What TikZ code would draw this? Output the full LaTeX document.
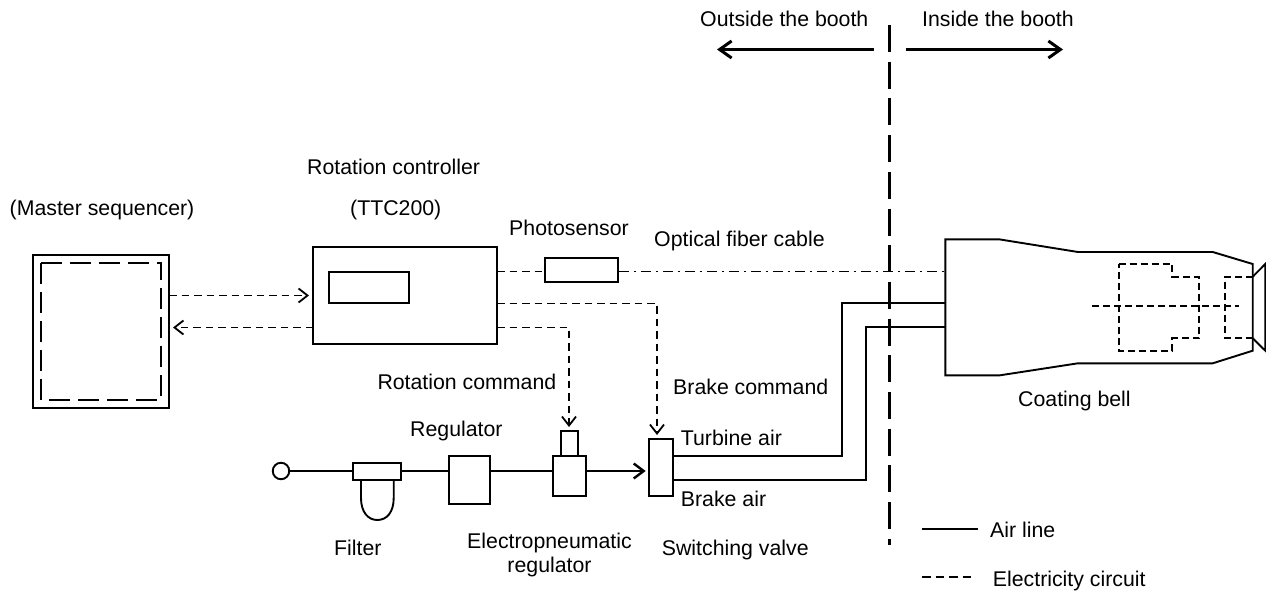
\documentclass[tikz,border=0pt]{standalone}
\usepackage{fontspec}
\setmainfont{Liberation Sans}
\usetikzlibrary{arrows.meta}
\tikzset{
  x=1pt,y=-1pt,
  thin line/.style={line width=1.9pt,black},
  box/.style={thin line,fill=white},
  air/.style={line width=2.4pt,black},
  sig/.style={line width=1.8pt,black,dash pattern=on 7.5pt off 5pt},
  sigarrow/.style={sig,-{Straight Barb[length=9pt,width=14pt,line width=1.8pt]}},
  fiber/.style={line width=1.8pt,black,dash pattern=on 10pt off 5pt on 2pt off 5pt},
  booth/.style={line width=3.2pt,black,dash pattern=on 27pt off 9.7pt},
  heavy/.style={line width=3pt,black,-{Straight Barb[length=12pt,width=17pt,line width=3pt]}},
  lbl/.style={font=\fontsize{21.3pt}{24pt}\selectfont,inner sep=0pt,anchor=base west,black},
}
\begin{document}
\begin{tikzpicture}
\useasboundingbox (0,0) rectangle (1266,591);
% booth divider
\coordinate (bt) at (889.3,25);
\coordinate (bb) at (889.3,545);
\draw[booth] (bt) -- (bb);
\coordinate (la) at (873.5,49.5);
\coordinate (lb) at (717,49.5);
\coordinate (ra) at (906,49.5);
\coordinate (rb) at (1063,49.5);
\draw[heavy] (la) -- (lb);
\draw[heavy] (ra) -- (rb);
\node[lbl] (t1) at (700,26.5) {Outside the booth};
\node[lbl] (t2) at (922,26.5) {Inside the booth};
% master sequencer
\node[lbl] (t3) at (9.5,215) {(Master sequencer)};
\draw[box] (32.7,255) rectangle (169,407.7);
\coordinate (m) at (169,295.5);
\coordinate (mi) at (173,327.5);
\draw[line width=2.2pt,black,dash pattern=on 21pt off 8pt] (41,263) rectangle (161,400);
% controller
\node[lbl] (t4) at (307,175) {Rotation controller};
\node[lbl] (t5) at (350,215) {(TTC200)};
\draw[box] (313,247) rectangle (497,343.7);
\draw[box] (329,272) rectangle (409,303);
\coordinate (ci) at (309,295.5);
\coordinate (co) at (313,327.5);
\draw[sigarrow] (m) -- (ci);
\draw[sigarrow] (co) -- (mi);
% photosensor & fiber
\node[lbl] (t6) at (509,235) {Photosensor};
\node[lbl] (t7) at (654,246) {Optical fiber cable};
\node[box,draw,minimum width=73pt,minimum height=24pt,inner sep=0pt] (ph) at (581.5,270) {};
\coordinate (c1) at (497,271.5);
\coordinate (c2) at (497,303.5);
\coordinate (c3) at (497,327.5);
\coordinate (bell) at (945.3,271.5);
\draw[sig] (c1) -- (ph.west |- c1);
\draw[fiber] (ph.east |- c1) -- (bell);
% valve etc.
\node[lbl] (t8) at (377.3,389) {Rotation command};
\node[lbl] (t9) at (673,394) {Brake command};
\node[lbl] (t10) at (410,436.7) {Regulator};
\node[lbl] (t11) at (680.7,445) {Turbine air};
\node[lbl] (t12) at (680.7,506.7) {Brake air};
\node[lbl] (t13) at (334,555) {Filter};
\node[lbl,anchor=base] (t14) at (549.5,548.3) {Electropneumatic};
\node[lbl,anchor=base] (t15) at (549.5,572.7) {regulator};
\node[lbl] (t16) at (661.7,555) {Switching valve};
\node[lbl] (t17) at (1018,406.7) {Coating bell};
\node[draw,circle,thin line,minimum size=16.5pt,inner sep=0pt] (src) at (281,471) {};
\coordinate (vin) at (645.7,471);
\draw[air,-{Straight Barb[length=10pt,width=15pt,line width=2.4pt]}] (src) -- (vin);
\draw[box] (361,480) -- (361,498) .. controls (361,512) and (368,520) .. (377.35,520) .. controls (387,520) and (393.7,512) .. (393.7,498) -- (393.7,480);
\draw[box] (353,463.3) rectangle (401,480);
\draw[box] (449,455.7) rectangle (489.7,504);
\draw[box] (553,455.7) rectangle (585.7,495.7);
\draw[box] (561,431) rectangle (577.7,455.7);
\draw[box] (649,439) rectangle (673,495.7);
\coordinate (ep) at (569,427);
\coordinate (va) at (657,435);
\draw[sigarrow] (c2) -- (657,303.5) -- (va);
\draw[sigarrow] (c3) -- (569,327.5) -- (ep);
% air lines
\coordinate (v1) at (673,455.7);
\coordinate (v2) at (673,480);
\coordinate (b1) at (945.3,303);
\coordinate (b2) at (945.3,327);
\draw[air,line join=miter] (v1) -- (841.7,455.7) -- (841.7,303) -- (b1);
\draw[air,line join=miter] (v2) -- (865.7,480) -- (865.7,327) -- (b2);
% coating bell
\draw[thin line,line join=miter] (1252.7,276.7) -- (1265.3,264) -- (1265.3,350.7) -- (1252.7,338.3);
\draw[thin line] (945.3,239.3) -- (999,239.3) -- (1078,252) -- (1212.7,252) -- (1252.7,264) -- (1252.7,350.7) -- (1212.7,363.3) -- (1078,363.3) -- (1000,375.3) -- (945.3,375.3) -- cycle;
\draw[sig,dash pattern=on 7pt off 4pt] (1118.7,264) -- (1172.3,264) -- (1172.3,276.7) -- (1199,276.7) -- (1199,338.3) -- (1172.3,338.3) -- (1172.3,350.7) -- (1118.7,350.7) -- cycle;
\draw[sig,dash pattern=on 7pt off 4pt] (1092.3,306.3) -- (1239.3,306.3);
\draw[sig,dash pattern=on 7pt off 4pt] (1252.7,276.7) -- (1225,276.7) -- (1225,338.3) -- (1252.7,338.3);
% legend
\coordinate (l1) at (922,529);
\coordinate (l2) at (977.7,529);
\coordinate (l3) at (922,576.7);
\coordinate (l4) at (972,576.7);
\draw[air] (l1) -- (l2);
\draw[line width=1.8pt,black,dash pattern=on 8.5pt off 5pt] (l3) -- (l4);
\node[lbl] (t18) at (990,537.5) {Air line};
\node[lbl] (t19) at (992.7,586) {Electricity circuit};
\end{tikzpicture}
\end{document}
